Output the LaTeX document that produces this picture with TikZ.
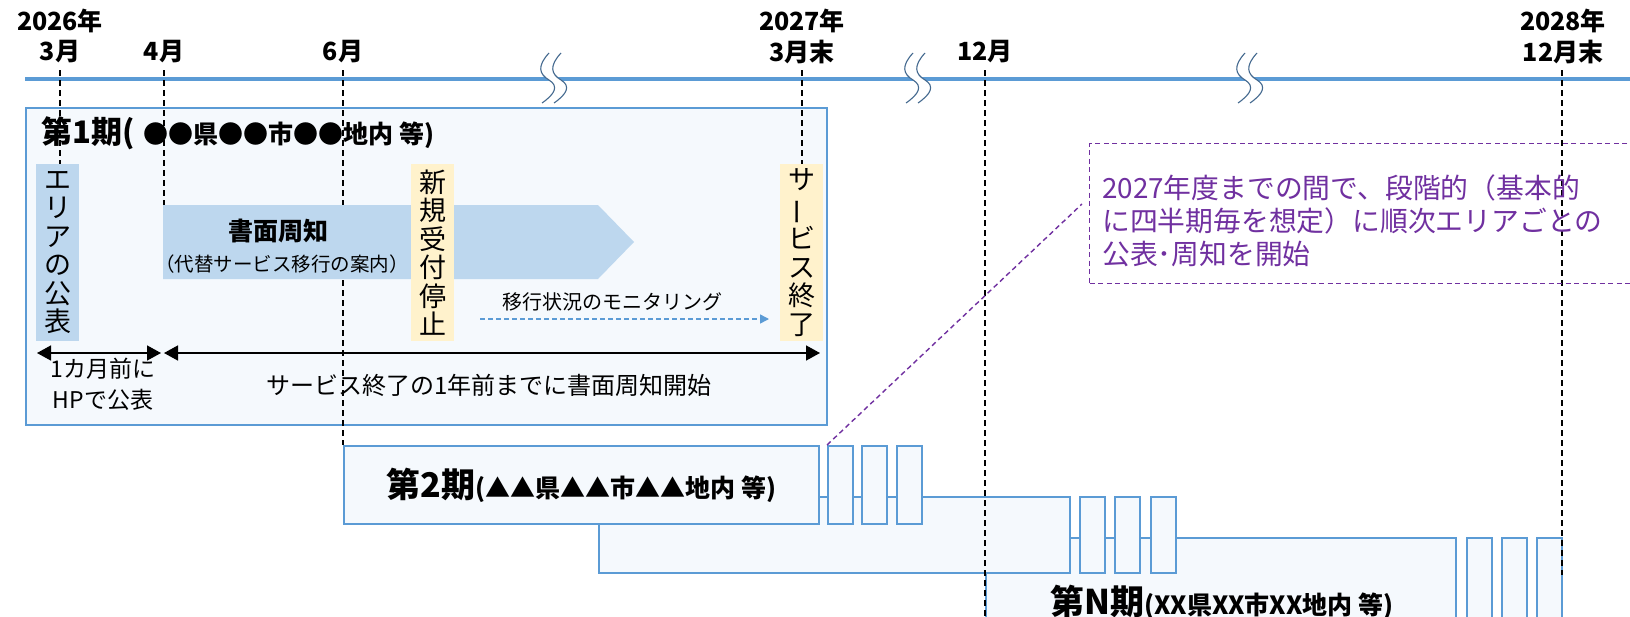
\documentclass[tikz,border=0pt]{standalone}
\usepackage{fontspec}
\setmainfont{Noto Sans CJK JP}
\usepackage{graphicx}
\usetikzlibrary{arrows.meta}
\definecolor{tlblue}{HTML}{5B9BD5}
\definecolor{boxfill}{HTML}{F5F9FD}
\definecolor{lblue}{HTML}{BDD7EE}
\definecolor{lyellow}{HTML}{FFF2CC}
\definecolor{purp}{HTML}{7030A0}
\definecolor{breakc}{HTML}{44698F}
\newcommand{\fsz}[1]{\fontsize{#1}{#1}\selectfont}
\newcommand{\vbar}{\rotatebox[origin=c]{90}{ー}}
\begin{document}
\begin{tikzpicture}[x=1pt,y=-1pt,
  datelbl/.style={font=\bfseries\fsz{25}, inner sep=0pt},
  tickline/.style={black, line width=1.1pt, dash pattern=on 6pt off 4pt},
  vtbox/.style={minimum width=43pt, minimum height=177pt, inner sep=0pt, align=center, font=\fontsize{27}{28.5}\selectfont},
  pbox/.style={draw=tlblue, fill=boxfill, line width=1.8pt, inner sep=0pt, anchor=north west},
  dblarrow/.style={black, line width=1.5pt, {Triangle[length=14pt,width=15pt]}-{Triangle[length=14pt,width=15pt]}},
  purpdash/.style={purp, line width=1.4pt, dash pattern=on 5pt off 3.5pt},
  strand/.style={breakc, line width=1.1pt}
]
\clip (0,0) rectangle (1630,616);
\fill[white] (0,0) rectangle (1630,616);

% timeline
\coordinate (tlL) at (25,79);
\coordinate (tlR) at (1635,79);
\draw[tlblue, line width=4.5pt] (tlL) -- (tlR);

% break marks
\foreach \bx in {553,917,1249}{
\begin{scope}[shift={(\bx,78)}]
\fill[white] (-4,-25) .. controls (-16,-12) and (-14,-4) .. (-4,2) .. controls (6,8) and (2,16) .. (-11,25) -- (1,25) .. controls (14,16) and (18,8) .. (8,2) .. controls (-2,-4) and (-4,-12) .. (8,-25) -- cycle;
\draw[strand] (-4,-25) .. controls (-16,-12) and (-14,-4) .. (-4,2) .. controls (6,8) and (2,16) .. (-11,25);
\draw[strand] (8,-25) .. controls (-4,-12) and (-2,-4) .. (8,2) .. controls (18,8) and (14,16) .. (1,25);
\end{scope}}

% date labels
\node[datelbl] (y26) at (60,21) {2026年};
\node[datelbl] (m3) at (60,52) {3月};
\node[datelbl] (m4) at (164,52) {4月};
\node[datelbl] (m6) at (343,52) {6月};
\node[datelbl] (y27) at (802,21) {2027年};
\node[datelbl] (m3e) at (802,52) {3月末};
\node[datelbl] (m12) at (985,52) {12月};
\node[datelbl] (y28) at (1563,21) {2028年};
\node[datelbl] (m12e) at (1563,52) {12月末};

% phase 1 box
\node[draw=tlblue, fill=boxfill, line width=1.5pt, minimum width=801pt, minimum height=317pt, inner sep=0pt, anchor=north west] (p1) at (25,107) {};

% tick lines in phase 1
\coordinate (t3a) at (60,70);   \coordinate (t3b) at (60,164);
\coordinate (t4a) at (164,70);  \coordinate (t4b) at (164,250);
\coordinate (t6a) at (343,70);  \coordinate (t6b) at (343,445);
\coordinate (t3ea) at (802,70); \coordinate (t3eb) at (802,164);
\draw[tickline] (t3a) -- (t3b);
\draw[tickline] (t4a) -- (t4b);
\draw[tickline] (t6a) -- (t6b);
\draw[tickline] (t3ea) -- (t3eb);

% arrow shape
\fill[lblue] (163,205) -- (598,205) -- (634,242) -- (598,279) -- (163,279) -- cycle;
\node[font=\bfseries\fsz{25}] (shomen) at (278,231) {書面周知};
\node[font=\fsz{19.5}] (shomensub) at (282,264) {（代替サービス移行の案内）};

% vertical boxes
\node[vtbox, fill=lblue] (area) at (57.5,252.5) {エ\\リ\\ア\\の\\公\\表};
\node[vtbox, fill=lyellow] (stop) at (432.5,252.5) {新\\規\\受\\付\\停\\止};
\node[vtbox, fill=lyellow] (svcend) at (801.5,252.5) {サ\\\vbar\\ビ\\ス\\終\\了};

% title phase 1
\node[anchor=west, inner sep=0pt] (p1t) at (41,133) {{\bfseries\fsz{31}第1期(}\hspace{9pt}{\bfseries\fsz{25}●●県●●市●●地内\hspace{6pt}等)}};

% monitoring
\node[font=\fsz{20}] (mon) at (612,302) {移行状況のモニタリング};
\coordinate (ms) at (480,319);
\coordinate (me) at (769,319);
\draw[tlblue, line width=1.5pt, dash pattern=on 5pt off 3pt, -{Triangle[length=9pt,width=9pt]}] (ms) -- (me);

% double arrows
\coordinate (da1) at (37,353);  \coordinate (da2) at (161,353);
\coordinate (db1) at (164,353); \coordinate (db2) at (820,353);
\draw[dblarrow] (da1) -- (da2);
\draw[dblarrow] (db1) -- (db2);
\node[font=\fsz{23}] (hp1) at (103,369) {1カ月前に};
\node[font=\fsz{23}] (hp2) at (103,400) {HPで公表};
\node[font=\fsz{24}] (span) at (489,385) {サービス終了の1年前までに書面周知開始};

% lower phases
\node[pbox, minimum width=470pt, minimum height=100pt] (pN) at (985,537) {};
\node[pbox, minimum width=25pt, minimum height=100pt] (pNs1) at (1466,537) {};
\node[pbox, minimum width=25pt, minimum height=100pt] (pNs2) at (1501,537) {};
\node[pbox, minimum width=25pt, minimum height=100pt] (pNs3) at (1536,537) {};
\node[pbox, minimum width=471pt, minimum height=76pt] (mid) at (598,496) {};
\node[pbox, minimum width=25pt, minimum height=76pt] (mids1) at (1079,496) {};
\node[pbox, minimum width=25pt, minimum height=76pt] (mids2) at (1114,496) {};
\node[pbox, minimum width=25pt, minimum height=76pt] (mids3) at (1150,496) {};
\node[pbox, minimum width=475pt, minimum height=78pt] (p2) at (343,445) {{\bfseries\fsz{34}第2期}{\bfseries\fsz{25}(▲▲県▲▲市▲▲地内\hspace{6pt}等)}};
\node[pbox, minimum width=25pt, minimum height=78pt] (p2s1) at (827,445) {};
\node[pbox, minimum width=25pt, minimum height=78pt] (p2s2) at (861,445) {};
\node[pbox, minimum width=25pt, minimum height=78pt] (p2s3) at (896,445) {};
\node[inner sep=0pt] (pNt) at (1222,602) {{\bfseries\fsz{34}第N期}{\bfseries\fsz{25}(XX県XX市XX地内\hspace{6pt}等)}};

% long ticks
\coordinate (t12a) at (985,70);   \coordinate (t12b) at (985,616);
\coordinate (t12ea) at (1562,70); \coordinate (t12eb) at (1562,575);
\draw[tickline] (t12a) -- (t12b);
\draw[tickline] (t12ea) -- (t12eb);

% note
\node[draw=purp, purpdash, minimum width=560pt, minimum height=140pt, inner sep=0pt, anchor=north west] (note) at (1089,143) {};
\node[anchor=north west, inner sep=0pt, text=purp, align=left, font=\fontsize{27.8}{33}\selectfont] (notetxt) at (1102,174) {2027年度までの間で、段階的（基本的\\に四半期毎を想定）に順次エリアごとの\\公表･周知を開始};
\coordinate (noteend) at (1082,204);
\draw[purpdash] (p2s1.north west) -- (noteend);
\end{tikzpicture}
\end{document}
